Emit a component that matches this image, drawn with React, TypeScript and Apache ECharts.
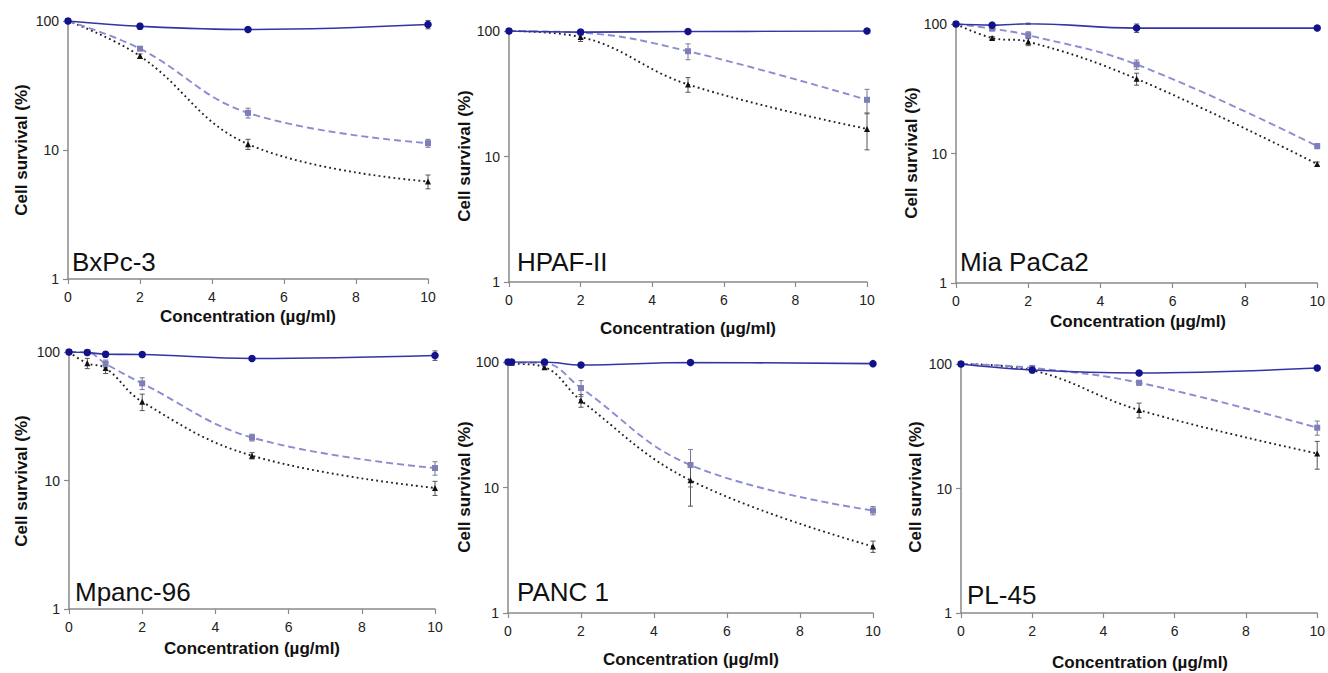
import React, { useEffect, useRef } from "react";
import * as echarts from "echarts";

// ---------- data ----------
const cellLines = ["BxPc-3", "HPAF-II", "Mia PaCa2", "Mpanc-96", "PANC 1", "PL-45"];
const xTitle = "Concentration (µg/ml)";
const yTitle = "Cell survival (%)";
const xTicks = [0, 2, 4, 6, 8, 10];
const yTicks = [1, 10, 100];

const bxpcConc = [0, 2, 5, 10];
const bxpcSolid = [100, 91, 86, 94];
const bxpcSolidErr = [0, 5, 2, 7];
const bxpcDashed = [100, 61, 19.4, 11.3];
const bxpcDashedErr = [0, 2, 1.7, 0.8];
const bxpcDotted = [100, 53.5, 11.1, 5.7];
const bxpcDottedErr = [0, 2, 1, 0.7];

const hpafConc = [0, 2, 5, 10];
const hpafSolid = [100, 98, 99, 100];
const hpafSolidErr = [0, 2, 1, 1];
const hpafDashed = [100, 97, 69, 28.3];
const hpafDashedErr = [0, 4, 10, 6];
const hpafDotted = [100, 89.5, 37.5, 16.6];
const hpafDottedErr = [0, 7, 5, 5.3];

const miaConc = [0, 1, 2, 5, 10];
const miaSolid = [100, 98, 100.5, 93, 93];
const miaSolidErr = [0, 4, 1, 7, 1];
const miaDashed = [100, 92, 82, 48.7, 11.4];
const miaDashedErr = [0, 3, 5, 4, 0.5];
const miaDotted = [100, 78, 73, 37.7, 8.3];
const miaDottedErr = [0, 2, 5, 4, 0.3];

const mpancConc = [0, 0.5, 1, 2, 5, 10];
const mpancSolid = [100, 99, 96, 95.5, 89, 94];
const mpancSolidErr = [0, 4, 5, 4, 2, 8];
const mpancDashed = [100, 99.5, 81, 57, 21.6, 12.5];
const mpancDashedErr = [0, 3, 5.5, 6, 1.3, 1.5];
const mpancDotted = [100, 81.7, 75, 41, 15.6, 8.75];
const mpancDottedErr = [0, 7.5, 7, 6, 0.9, 1.1];

const pancConc = [0, 0.1, 1, 2, 5, 10];
const pancSolid = [100, 100, 100, 94.6, 99, 97];
const pancSolidErr = [0, 1, 2, 2, 1, 3];
const pancDashed = [100, 99, 98, 62, 15.1, 6.55];
const pancDashedErr = [0, 1, 2, 9, 5, 0.5];
const pancDotted = [100, 98, 91, 49.3, 11.4, 3.39];
const pancDottedErr = [0, 1, 3, 5.7, 4.3, 0.35];

const plConc = [0, 2, 5, 10];
const plSolid = [100, 89.5, 84.7, 92.9];
const plSolidErr = [0, 1, 1, 1];
const plDashed = [100, 93, 70.7, 30.8];
const plDashedErr = [0, 3, 3, 4];
const plDotted = [100, 89, 42.7, 19.1];
const plDottedErr = [0, 2, 5.8, 4.8];

const panelData = [
  { conc: bxpcConc, solid: bxpcSolid, solidErr: bxpcSolidErr, dashed: bxpcDashed, dashedErr: bxpcDashedErr, dotted: bxpcDotted, dottedErr: bxpcDottedErr },
  { conc: hpafConc, solid: hpafSolid, solidErr: hpafSolidErr, dashed: hpafDashed, dashedErr: hpafDashedErr, dotted: hpafDotted, dottedErr: hpafDottedErr },
  { conc: miaConc, solid: miaSolid, solidErr: miaSolidErr, dashed: miaDashed, dashedErr: miaDashedErr, dotted: miaDotted, dottedErr: miaDottedErr },
  { conc: mpancConc, solid: mpancSolid, solidErr: mpancSolidErr, dashed: mpancDashed, dashedErr: mpancDashedErr, dotted: mpancDotted, dottedErr: mpancDottedErr },
  { conc: pancConc, solid: pancSolid, solidErr: pancSolidErr, dashed: pancDashed, dashedErr: pancDashedErr, dotted: pancDotted, dottedErr: pancDottedErr },
  { conc: plConc, solid: plSolid, solidErr: plSolidErr, dashed: plDashed, dashedErr: plDashedErr, dotted: plDotted, dottedErr: plDottedErr },
];

// ---------- layout ----------
const grids = [
  { left: 68, top: 21, width: 360, height: 258 },
  { left: 509, top: 31, width: 358, height: 251 },
  { left: 956, top: 24, width: 365, height: 259 },
  { left: 69, top: 352, width: 366, height: 257 },
  { left: 508, top: 362, width: 365, height: 251 },
  { left: 961, top: 364, width: 358, height: 249 },
];
const xTitlePos = [[248, 316], [688, 328], [1138, 321], [252, 648], [691, 659], [1140, 662]];
const yTitlePos = [[21, 150], [464, 156], [911, 153], [21, 481], [464, 487], [915, 487]];
const labelPos = [[72, 262], [517, 262], [960, 262], [75, 592], [517, 592], [967, 595]];

const FONT = "Liberation Sans, Arial, sans-serif";

const styles = {
  solid: { line: "#3434a6", width: 1.6, type: "solid", symbol: "circle", size: 7.5, marker: "#12128a", err: "#555577" },
  dashed: { line: "#8c8cd0", width: 1.9, type: [7, 4], symbol: "rect", size: 6, marker: "#7e7eb8", err: "#777799" },
  dotted: { line: "#222222", width: 1.9, type: [1.8, 3.2], symbol: "triangle", size: 6, marker: "#111111", err: "#555555" },
};

function errRender(color: string) {
  return (params: any, api: any) => {
    const x = api.value(0);
    const lo = api.value(1);
    const hi = api.value(2);
    if (!(hi > lo)) return { type: "group", children: [] };
    const t = api.coord([x, hi]);
    const b = api.coord([x, lo]);
    const w = 2.5;
    const st = { stroke: color, lineWidth: 1 };
    return {
      type: "group",
      children: [
        { type: "line", shape: { x1: t[0], y1: t[1], x2: b[0], y2: b[1] }, style: st },
        { type: "line", shape: { x1: t[0] - w, y1: t[1], x2: t[0] + w, y2: t[1] }, style: st },
        { type: "line", shape: { x1: b[0] - w, y1: b[1], x2: b[0] + w, y2: b[1] }, style: st },
      ],
    };
  };
}

export default function App() {
  const ref = useRef<HTMLDivElement>(null);
  useEffect(() => {
    if (!ref.current) return;
    const chart = echarts.init(ref.current, null, { renderer: "svg" });
    const xAxes: any[] = [];
    const yAxes: any[] = [];
    const series: any[] = [];
    const graphic: any[] = [];
    grids.forEach((g, i) => {
      xAxes.push({
        type: "value",
        gridIndex: i,
        min: xTicks[0],
        max: xTicks[xTicks.length - 1],
        interval: 2,
        axisLine: { show: true, lineStyle: { color: "#8a8a8a", width: 1.5 } },
        axisTick: { show: true, length: 5, lineStyle: { color: "#8a8a8a", width: 1.2 } },
        axisLabel: { color: "#222", fontSize: 14, fontFamily: FONT, margin: 11 },
        splitLine: { show: false },
      });
      yAxes.push({
        type: "log",
        logBase: 10,
        gridIndex: i,
        min: yTicks[0],
        max: yTicks[yTicks.length - 1],
        axisLine: { show: true, lineStyle: { color: "#8a8a8a", width: 1.5 } },
        axisTick: { show: true, length: 5, lineStyle: { color: "#8a8a8a", width: 1.2 } },
        axisLabel: { color: "#222", fontSize: 14, fontFamily: FONT, margin: 9 },
        splitLine: { show: false },
        minorTick: { show: false },
      });
      const d = panelData[i];
      (["solid", "dashed", "dotted"] as const).forEach((k) => {
        const s = (styles as any)[k];
        const vals: number[] = (d as any)[k];
        const errs: number[] = (d as any)[k + "Err"];
        series.push({
          type: "custom",
          xAxisIndex: i,
          yAxisIndex: i,
          renderItem: errRender(s.err),
          encode: { x: 0, y: [1, 2] },
          data: d.conc.map((c, j) => [c, vals[j] - errs[j], vals[j] + errs[j]]),
          z: 2,
          silent: true,
        });
        series.push({
          type: "line",
          xAxisIndex: i,
          yAxisIndex: i,
          smooth: 0.4,
          data: d.conc.map((c, j) => [c, vals[j]]),
          symbol: s.symbol,
          symbolSize: s.size,
          showSymbol: true,
          lineStyle: { color: s.line, width: s.width, type: s.type },
          itemStyle: { color: s.marker, borderWidth: 0 },
          z: k === "solid" ? 5 : k === "dashed" ? 4 : 3,
          silent: true,
        });
      });
      graphic.push({
        type: "text",
        x: xTitlePos[i][0],
        y: xTitlePos[i][1],
        style: { text: xTitle, fill: "#111", font: `bold 17px ${FONT}`, align: "center", verticalAlign: "middle" },
      });
      graphic.push({
        type: "text",
        x: yTitlePos[i][0],
        y: yTitlePos[i][1],
        rotation: Math.PI / 2,
        style: { text: yTitle, fill: "#111", font: `bold 17px ${FONT}`, align: "center", verticalAlign: "middle" },
      });
      graphic.push({
        type: "text",
        x: labelPos[i][0],
        y: labelPos[i][1],
        style: { text: cellLines[i], fill: "#111", font: `26px ${FONT}`, align: "left", verticalAlign: "middle" },
      });
    });
    chart.setOption({
      animation: false,
      backgroundColor: "#ffffff",
      grid: grids.map((g) => ({ ...g, containLabel: false })),
      xAxis: xAxes,
      yAxis: yAxes,
      series,
      graphic,
    });
    return () => chart.dispose();
  }, []);
  return (
    <div
      ref={ref}
      style={{ position: "absolute", left: 0, top: 0, width: 1328, height: 673, background: "#fff" }}
    />
  );
}
